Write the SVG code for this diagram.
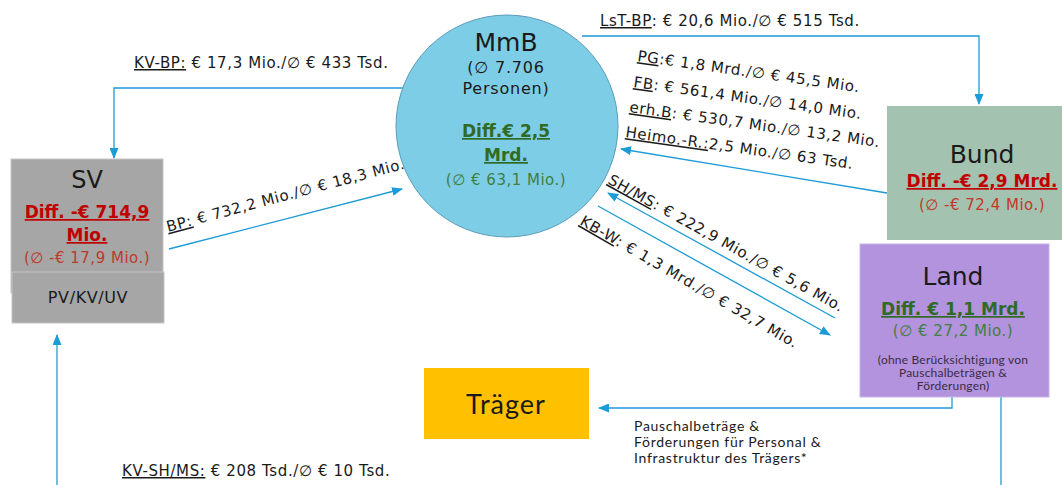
<svg xmlns="http://www.w3.org/2000/svg" width="1062" height="485" viewBox="0 0 1062 485">
  <style>
    .v { font-family: "DejaVu Sans", Verdana, sans-serif; fill: #1a1a1a; }
    .c { font-family: Lato, "Open Sans", sans-serif; fill: #1a1a1a; }
    .lbl { font-size: 15px; letter-spacing: 0.6px; }
    .ul { text-decoration: underline; }
    .redb { fill: #c00000; font-weight: bold; font-size: 17px; text-decoration: underline; }
    .red { fill: #c0392b; font-size: 15px; letter-spacing: 0.5px; }
    .grnb { fill: #2f6b24; font-weight: bold; font-size: 17px; text-decoration: underline; }
    .grn { fill: #3f7f3f; font-size: 15px; letter-spacing: 0.5px; }
    .big { font-size: 25px; }
    .conn { fill: none; stroke: #1c9bd6; stroke-width: 1.3; marker-end: url(#arr); }
  </style>
  <defs>
    <marker id="arr" markerUnits="userSpaceOnUse" markerWidth="11" markerHeight="9" refX="10" refY="4.5" orient="auto">
      <path d="M0,0 L11,4.5 L0,9 z" fill="#1c9bd6"/>
    </marker>
  </defs>

  <rect width="1062" height="485" fill="#ffffff"/>

  <!-- connectors -->
  <g id="connectors">
    <path class="conn" d="M408,88 H114 V158"/>
    <path class="conn" d="M582,36 H979 V104"/>
    <path class="conn" d="M169,249 L402,189"/>
    <path class="conn" d="M887,193 L621,149"/>
    <path class="conn" d="M835,318 L608,193"/>
    <path class="conn" d="M598,206 L830,335"/>
    <path class="conn" d="M952,397 V408 H599"/>
    <path fill="none" stroke="#1c9bd6" stroke-width="1.3" d="M1001,397 V485"/>
    <path class="conn" d="M57,485 V335"/>
  </g>

  <!-- connector labels -->
  <g id="labels" class="v lbl">
    <text x="134" y="68"><tspan class="ul">KV-BP:</tspan> € 17,3 Mio./∅ € 433 Tsd.</text>
    <text x="600" y="26"><tspan class="ul">LsT-BP</tspan>: € 20,6 Mio./∅ € 515 Tsd.</text>
    <text transform="translate(168,232) rotate(-15)"><tspan class="ul">BP:</tspan> € 732,2 Mio./∅ € 18,3 Mio.</text>
    <text transform="translate(637,61) rotate(8)"><tspan class="ul">PG</tspan>:€ 1,8 Mrd./∅ € 45,5 Mio.</text>
    <text transform="translate(633,87) rotate(8)"><tspan class="ul">FB</tspan>: € 561,4 Mio./∅ 14,0 Mio.</text>
    <text transform="translate(629,112) rotate(8)"><tspan class="ul">erh.B</tspan>: € 530,7 Mio./∅ 13,2 Mio.</text>
    <text transform="translate(625,137) rotate(8)"><tspan class="ul">Heimo.-R.:</tspan>2,5  Mio./∅ 63 Tsd.</text>
    <text transform="translate(607,183) rotate(29)"><tspan class="ul">SH/MS</tspan>: € 222,9 Mio./∅ € 5,6 Mio.</text>
    <text transform="translate(579,224) rotate(30)"><tspan class="ul">KB-W</tspan>: € 1,3 Mrd./∅ € 32,7 Mio.</text>
    <text x="122" y="476"><tspan class="ul">KV-SH/MS:</tspan> € 208 Tsd./∅ € 10 Tsd.</text>
  </g>
  <g id="note" class="c" font-size="14" letter-spacing="0.7">
    <text x="634" y="431">Pauschalbeträge &amp;</text>
    <text x="634" y="447">Förderungen für Personal &amp;</text>
    <text x="634" y="463">Infrastruktur des Trägers*</text>
  </g>

  <!-- MmB -->
  <g id="mmb" class="v" text-anchor="middle">
    <circle cx="507" cy="126" r="111" fill="#7ecde6" stroke="#5b9cb8" stroke-width="1"/>
    <text x="506" y="51" class="big">MmB</text>
    <text x="506" y="73" font-size="16" letter-spacing="0.8">(∅ 7.706</text>
    <text x="506" y="94" font-size="16" letter-spacing="0.8">Personen)</text>
    <text x="506" y="137" class="grnb">Diff.€ 2,5</text>
    <text x="506" y="161" class="grnb">Mrd.</text>
    <text x="506" y="185" class="grn">(∅ € 63,1 Mio.)</text>
  </g>

  <!-- SV -->
  <g id="sv" class="v" text-anchor="middle">
    <rect x="11" y="159" width="152" height="134" fill="#a6a6a6" stroke="#c4c4c4"/>
    <rect x="12" y="272" width="152" height="51" fill="#a6a6a6" stroke="#c4c4c4"/>
    <text x="87" y="188" font-size="24">SV</text>
    <text x="87" y="218" class="redb">Diff. -€ 714,9</text>
    <text x="87" y="241" class="redb">Mio.</text>
    <text x="87" y="263" class="red">(∅ -€ 17,9 Mio.)</text>
    <text x="88" y="303" font-size="16" letter-spacing="0.6">PV/KV/UV</text>
  </g>

  <!-- Bund -->
  <g id="bund" class="v" text-anchor="middle">
    <rect x="887" y="106" width="175" height="134" fill="#a4c2b0"/>
    <text x="982" y="163" class="big">Bund</text>
    <text x="982" y="187" class="redb">Diff. -€ 2,9 Mrd.</text>
    <text x="982" y="210" class="red">(∅ -€ 72,4 Mio.)</text>
  </g>

  <!-- Land -->
  <g id="land" class="v" text-anchor="middle">
    <rect x="860" y="244" width="189" height="153" fill="#b392de" stroke="#c8b4e8"/>
    <text x="953" y="285" class="big">Land</text>
    <text x="953" y="315" class="grnb">Diff. € 1,1 Mrd.</text>
    <text x="953" y="336" class="grn">(∅ € 27,2 Mio.)</text>
    <g class="c" font-size="12" letter-spacing="0.2" style="fill:#3a2d46">
      <text x="953" y="364">(ohne Berücksichtigung von</text>
      <text x="953" y="377">Pauschalbeträgen &amp;</text>
      <text x="953" y="390">Förderungen)</text>
    </g>
  </g>

  <!-- Träger -->
  <g id="traeger" class="c" text-anchor="middle">
    <rect x="424" y="368" width="165" height="71" fill="#ffc000"/>
    <text x="506" y="414" font-size="27" letter-spacing="1">Träger</text>
  </g>
</svg>
